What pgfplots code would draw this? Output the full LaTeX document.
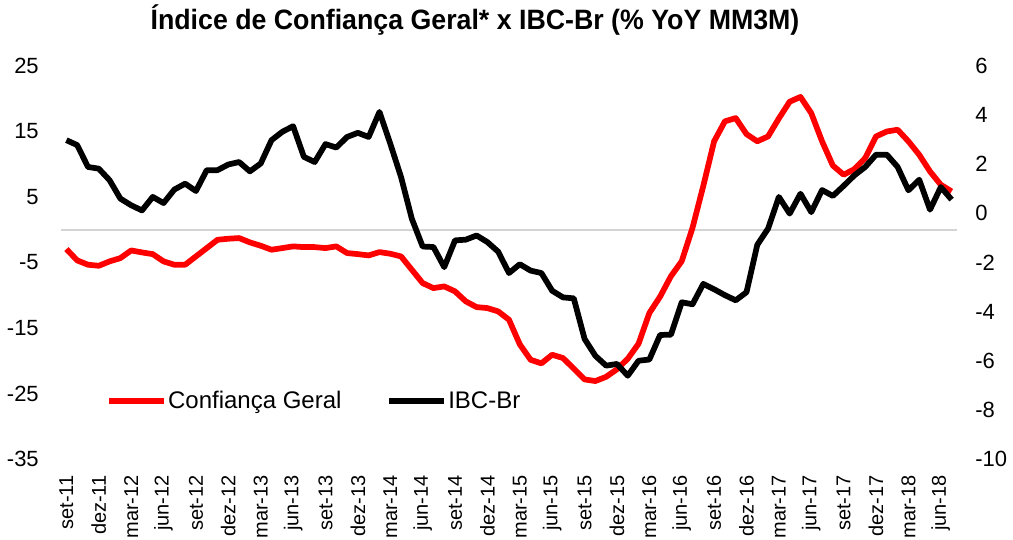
\documentclass[border=0pt]{standalone}
\usepackage{fontspec}
\setmainfont{Liberation Sans}
\usepackage{graphicx}
\usepackage{pgfplots}
\usepackage{pgfplotstable}
\pgfplotsset{compat=1.18}

\pgfplotstableread{
i conf ibc
0 -2.95 2.98
1 -4.68 2.78
2 -5.34 1.89
3 -5.50 1.82
4 -4.83 1.35
5 -4.33 0.60
6 -3.16 0.33
7 -3.46 0.12
8 -3.72 0.67
9 -4.83 0.42
10 -5.34 0.97
11 -5.34 1.21
12 -4.07 0.91
13 -2.80 1.76
14 -1.53 1.76
15 -1.37 1.99
16 -1.27 2.09
17 -1.93 1.71
18 -2.44 2.03
19 -3.05 2.98
20 -2.80 3.32
21 -2.54 3.55
22 -2.65 2.30
23 -2.65 2.09
24 -2.80 2.82
25 -2.54 2.68
26 -3.56 3.11
27 -3.72 3.28
28 -3.92 3.11
29 -3.41 4.13
30 -3.66 2.84
31 -4.07 1.48
32 -6.11 -0.22
33 -8.14 -1.35
34 -8.91 -1.37
35 -8.65 -2.19
36 -9.41 -1.10
37 -10.94 -1.07
38 -11.81 -0.90
39 -11.96 -1.17
40 -12.47 -1.56
41 -13.74 -2.43
42 -17.50 -2.07
43 -19.85 -2.33
44 -20.40 -2.43
45 -19.08 -3.15
46 -19.59 -3.42
47 -21.20 -3.46
48 -22.85 -5.11
49 -23.10 -5.80
50 -22.45 -6.20
51 -21.30 -6.13
52 -19.70 -6.61
53 -17.40 -6.00
54 -12.72 -5.95
55 -10.20 -4.95
56 -7.10 -4.94
57 -4.80 -3.62
58 0.30 -3.70
59 6.70 -2.87
60 13.50 -3.09
61 16.55 -3.33
62 17.05 -3.54
63 14.60 -3.21
64 13.50 -1.28
65 14.25 -0.62
66 17.00 0.67
67 19.55 -0.01
68 20.28 0.80
69 17.80 0.05
70 13.50 0.95
71 9.80 0.71
72 8.40 1.12
73 9.26 1.55
74 10.95 1.89
75 14.25 2.39
76 15.00 2.39
77 15.27 1.89
78 13.50 0.94
79 11.45 1.37
80 8.90 0.15
81 6.87 1.07
82 5.85 0.56
}\chartdata

\pgfplotsset{
  common/.style={
    scale only axis,
    width=672pt, height=294.75pt,
    at={(45.75pt,60pt)}, anchor=south west,
    xmin=-0.5, xmax=82.5,
    axis line style={draw=none},
    major tick style={draw=none},
    minor tick style={draw=none},
    /pgf/number format/assume math mode=true,
    clip=false,
  },
}

\begin{document}
\begin{tikzpicture}
\useasboundingbox (0,0) rectangle (759.75pt,404.25pt);

\begin{axis}[common,
  ymin=-35, ymax=25,
  ytick={-35,-25,-15,-5,5,15,25},
  yticklabel style={anchor=east, inner sep=0pt, xshift=-16.5pt,
    font=\fontsize{16.5}{18}\selectfont},
  xtick={0,3,...,81},
  xticklabels={set-11,dez-11,mar-12,jun-12,set-12,dez-12,mar-13,jun-13,set-13,dez-13,mar-14,jun-14,set-14,dez-14,mar-15,jun-15,set-15,dez-15,mar-16,jun-16,set-16,dez-16,mar-17,jun-17,set-17,dez-17,mar-18,jun-18},
  xticklabel style={rotate=90, anchor=east, inner sep=0pt, xshift=-12pt,
    font=\fontsize{15}{17}\selectfont},
  extra y ticks={0},
  extra y tick labels={},
  extra y tick style={grid=major, major grid style={draw=black!17, line width=1.2pt}},
]
\addplot[red, line width=4.3pt, line join=round] table[x=i, y=conf] {\chartdata};
\end{axis}

\begin{axis}[common,
  ymin=-10, ymax=6,
  ytick={-10,-8,...,6},
  axis x line=none,
  yticklabel pos=right,
  yticklabel style={anchor=west, inner sep=0pt, xshift=13.5pt,
    font=\fontsize{16.5}{18}\selectfont},
  legend columns=2,
  legend image code/.code={\draw[#1] (0pt,0pt) -- (41.25pt,0pt);},
  legend style={at={(0.0503,0.1476)}, anchor=west, draw=none, fill=none,
    inner sep=0pt, outer sep=0pt,
    font=\fontsize{18}{20}\selectfont,
    nodes={inner sep=1pt},
    /tikz/every even column/.append style={column sep=32.5pt}},
]
\addlegendimage{red, line width=4.3pt}
\addlegendentry{Confiança Geral}
\addplot[black, line width=4.3pt, line join=round] table[x=i, y=ibc] {\chartdata};
\addlegendentry{IBC-Br}
\end{axis}

\node[anchor=base, inner sep=0pt] at (356.25pt,381.75pt)
  {\scalebox{0.955}[1]{\fontsize{21}{24}\selectfont\bfseries Índice de Confiança Geral* x IBC-Br (\% YoY MM3M)}};
\end{tikzpicture}
\end{document}
